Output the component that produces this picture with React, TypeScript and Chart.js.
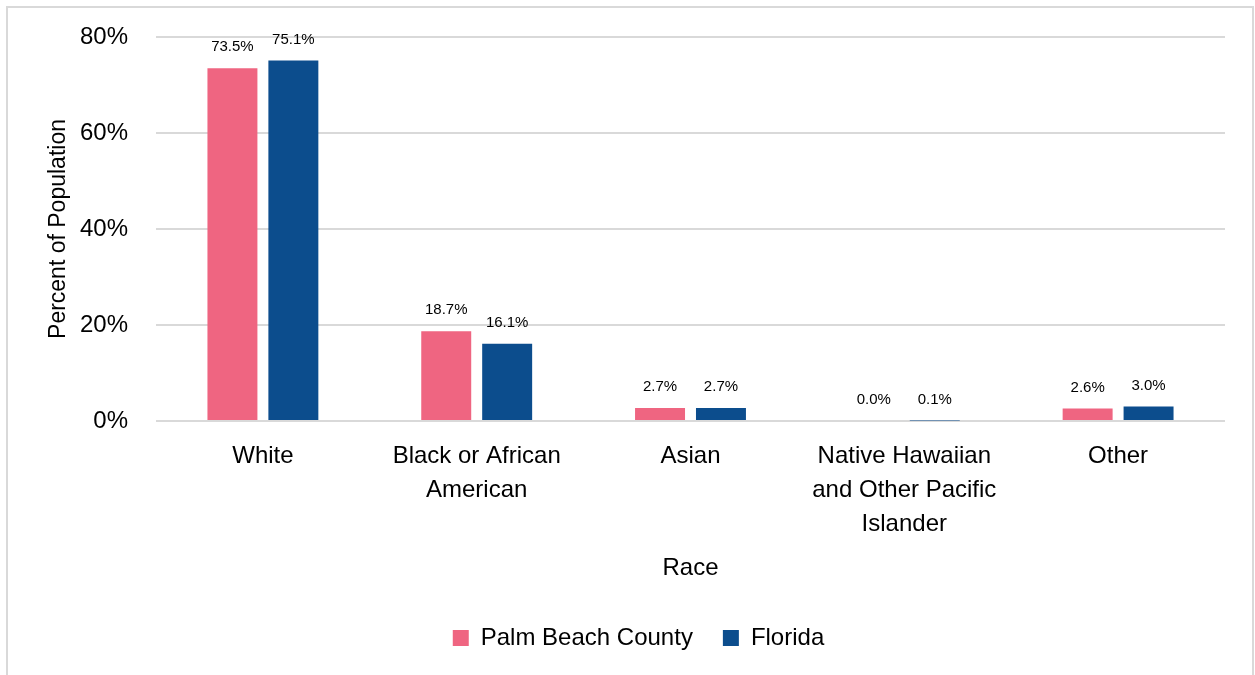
import React, { useEffect, useRef } from "react";
import { Chart, registerables } from "chart.js";

Chart.register(...registerables);

const categories: (string | string[])[] = [
  "White",
  ["Black or African", "American"],
  "Asian",
  ["Native Hawaiian", "and Other Pacific", "Islander"],
  "Other",
];
const palmBeach = [73.5, 18.7, 2.7, 0.0, 2.6];
const florida = [75.1, 16.1, 2.7, 0.1, 3.0];
const seriesNames = ["Palm Beach County", "Florida"];
const yTicks = [0, 20, 40, 60, 80];

const FONT = "'Liberation Sans', Arial, sans-serif";
const PINK = "#EF6581";
const BLUE = "#0C4D8D";

const dataLabels = {
  id: "dataLabels",
  afterDatasetsDraw(chart: any) {
    const ctx = chart.ctx;
    ctx.save();
    ctx.font = `15px ${FONT}`;
    ctx.fillStyle = "#000";
    ctx.textAlign = "center";
    ctx.textBaseline = "middle";
    chart.data.datasets.forEach((ds: any, di: number) => {
      const meta = chart.getDatasetMeta(di);
      meta.data.forEach((bar: any, i: number) => {
        const v = ds.data[i] as number;
        ctx.fillText(v.toFixed(1) + "%", bar.x, bar.y - 21);
      });
    });
    ctx.restore();
  },
};

const legendShift = {
  id: "legendShift",
  afterLayout(chart: any) {
    const lg = chart.legend;
    if (lg && lg.lineWidths && lg.lineWidths.length) {
      lg.lineWidths[0] -= 44;
    }
  },
};

export default function App() {
  const ref = useRef<HTMLCanvasElement>(null);
  useEffect(() => {
    if (!ref.current) return;
    const chart = new Chart(ref.current, {
      type: "bar",
      data: {
        labels: categories as any,
        datasets: [
          {
            label: seriesNames[0],
            data: palmBeach,
            backgroundColor: PINK,
            categoryPercentage: 0.57,
            barPercentage: 0.82,
          },
          {
            label: seriesNames[1],
            data: florida,
            backgroundColor: BLUE,
            categoryPercentage: 0.57,
            barPercentage: 0.82,
          },
        ],
      },
      options: {
        animation: false,
        responsive: true,
        maintainAspectRatio: false,
        layout: { padding: { top: 29, right: 27, bottom: 15, left: 0 } },
        plugins: {
          tooltip: { enabled: false },
          legend: {
            position: "bottom",
            labels: {
              font: { family: FONT, size: 24 },
              color: "#000",
              boxWidth: 16,
              boxHeight: 16,
              padding: 30,
            },
          },
        },
        scales: {
          x: {
            grid: { display: false, drawTicks: false },
            border: { display: false },
            ticks: {
              font: { family: FONT, size: 24, lineHeight: 1.4 },
              color: "#000",
              padding: 19,
              maxRotation: 0,
              autoSkip: false,
            },
            title: {
              display: true,
              text: "Race",
              font: { family: FONT, size: 24 },
              color: "#000",
              padding: { top: 0, bottom: 13 },
            },
            afterFit(scale: any) {
              scale.height = 175;
            },
          },
          y: {
            min: 0,
            max: 80,
            afterBuildTicks(scale: any) {
              scale.ticks = yTicks.map((v) => ({ value: v }));
            },
            grid: { color: "#d9d9d9", lineWidth: 2, drawTicks: false },
            border: { display: false },
            ticks: {
              font: { family: FONT, size: 24 },
              color: "#000",
              padding: 28,
              callback: (v: any) => v + "%",
            },
            title: {
              display: true,
              text: "Percent of Population",
              font: { family: FONT, size: 23 },
              color: "#000",
              padding: { top: 37, bottom: 0 },
            },
            afterFit(scale: any) {
              scale.width = 148;
              scale.paddingTop = 0;
              scale.paddingBottom = 0;
            },
          },
        },
      },
      plugins: [dataLabels, legendShift],
    });
    return () => chart.destroy();
  }, []);

  return (
    <div
      style={{
        position: "absolute",
        left: 6,
        top: 6,
        width: 1244,
        height: 667,
        border: "2px solid #d9d9d9",
        background: "#fff",
      }}
    >
      <canvas ref={ref} />
    </div>
  );
}
